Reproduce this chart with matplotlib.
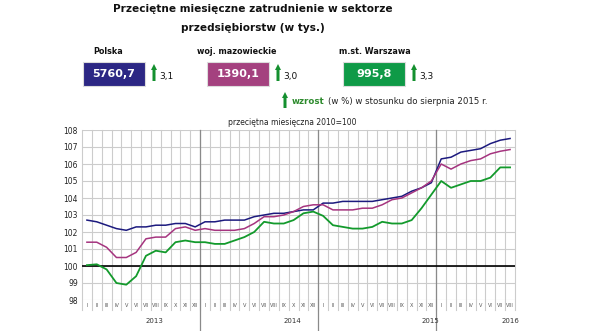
import numpy as np
import matplotlib.pyplot as plt
from matplotlib.patches import Rectangle, FancyArrow

# dane (przecietna miesieczna 2010=100)
miesiace = ['I', 'II', 'III', 'IV', 'V', 'VI', 'VII', 'VIII', 'IX', 'X', 'XI', 'XII'] * 3 + \
           ['I', 'II', 'III', 'IV', 'V', 'VI', 'VII', 'VIII']
lata = ['2013', '2014', '2015', '2016']
lata_poz = [6.9, 20.9, 34.9, 43.0]

polska = [102.7, 102.6, 102.4, 102.2, 102.1, 102.3, 102.3, 102.4, 102.4, 102.5, 102.5, 102.3,
          102.6, 102.6, 102.7, 102.7, 102.7, 102.9, 103.0, 103.1, 103.1, 103.2, 103.3, 103.3,
          103.7, 103.7, 103.8, 103.8, 103.8, 103.8, 103.9, 104.0, 104.1, 104.4, 104.6, 104.9,
          106.3, 106.4, 106.7, 106.8, 106.9, 107.2, 107.4, 107.5]
mazowieckie = [101.4, 101.4, 101.1, 100.5, 100.5, 100.8, 101.6, 101.7, 101.7, 102.2, 102.3, 102.1,
               102.2, 102.1, 102.1, 102.1, 102.2, 102.5, 102.9, 102.9, 103.0, 103.2, 103.5, 103.6,
               103.6, 103.3, 103.3, 103.3, 103.4, 103.4, 103.6, 103.9, 104.0, 104.3, 104.6, 105.0,
               106.0, 105.7, 106.0, 106.2, 106.3, 106.6, 106.75, 106.85]
warszawa = [100.05, 100.1, 99.8, 99.0, 98.9, 99.4, 100.6, 100.9, 100.8, 101.4, 101.5, 101.4,
            101.4, 101.3, 101.3, 101.5, 101.7, 102.0, 102.6, 102.5, 102.5, 102.7, 103.1, 103.2,
            102.95, 102.4, 102.3, 102.2, 102.2, 102.3, 102.6, 102.5, 102.5, 102.7, 103.4, 104.2,
            105.0, 104.6, 104.8, 105.0, 105.0, 105.2, 105.8, 105.8]

nazwy = ['Polska', 'woj. mazowieckie', 'm.st. Warszawa']
wartosci = ['5760,7', '1390,1', '995,8']
wzrost = ['3,1', '3,0', '3,3']

kolory_linii = ['#1c1a7e', '#a5347f', '#139a2c']
kolory_pudel = ['#2c2784', '#a4417f', '#0f9a47']

W, H = 590, 331
fig = plt.figure(figsize=(W / 100, H / 100), dpi=100)
ax = fig.add_axes([82 / W, 31 / H, 433 / W, 170 / H])

x = np.arange(len(miesiace))
n = len(miesiace)

# siatka
for b in np.arange(-0.5, n, 1.0):
    ax.plot([b, b], [-0.06, 1], transform=ax.get_xaxis_transform(), color='#cccccc',
            lw=0.8, clip_on=False, zorder=1)
for b in [11.5, 23.5, 35.5]:
    ax.plot([b, b], [-0.19, 1], transform=ax.get_xaxis_transform(), color='#8a8a8a',
            lw=0.9, clip_on=False, zorder=2)
for yv in range(98, 109):
    ax.axhline(yv, color='#cccccc', lw=0.8, zorder=1)
ax.axhline(100, color='black', lw=1.2, zorder=3)

ax.plot(x, polska, color=kolory_linii[0], lw=1.1, zorder=4)
ax.plot(x, mazowieckie, color=kolory_linii[1], lw=1.1, zorder=4)
ax.plot(x, warszawa, color=kolory_linii[2], lw=1.3, zorder=5)

ax.set_xlim(-0.5, n - 0.5)
ax.set_ylim(98, 108)
ax.set_yticks(range(98, 109))
ax.tick_params(axis='y', length=0, labelsize=5.5, pad=3, labelcolor='#222222')
ax.set_xticks([])
for s in ax.spines.values():
    s.set_visible(False)

for i, m in enumerate(miesiace):
    ax.text(i, -0.03, m, transform=ax.get_xaxis_transform(), ha='center', va='center',
            fontsize=3.6, color='#555555')
for rok, p in zip(lata, lata_poz):
    ax.text(p, -0.125, rok, transform=ax.get_xaxis_transform(), ha='center', va='center',
            fontsize=5, color='#333333')

ax.text(0.485, 1.045, 'przeciętna miesięczna 2010=100', transform=ax.transAxes,
        ha='center', va='center', fontsize=5.5, color='#222222')

# naglowek
fig.text(253 / W, 1 - 9 / H, 'Przeciętne miesięczne zatrudnienie w sektorze',
         ha='center', va='center', fontsize=7.6, fontweight='bold', color='#111111')
fig.text(253 / W, 1 - 28 / H, 'przedsiębiorstw (w tys.)',
         ha='center', va='center', fontsize=7.6, fontweight='bold', color='#111111')

box_x = [83, 207, 343]
lab_x = [108, 237, 375]
for i in range(3):
    bx = box_x[i]
    fig.text(lab_x[i] / W, 1 - 52 / H, nazwy[i], ha='center', va='center',
             fontsize=5.8, fontweight='bold', color='#111111')
    fig.add_artist(Rectangle((bx / W, 1 - 86 / H), 62 / W, 24 / H, transform=fig.transFigure,
                             facecolor=kolory_pudel[i], edgecolor='#dcdcdc', lw=0.8))
    fig.text((bx + 31) / W, 1 - 74 / H, wartosci[i], ha='center', va='center',
             fontsize=8, fontweight='bold', color='white')
    fig.add_artist(FancyArrow((bx + 71) / W, 1 - 81 / H, 0, 17 / H, width=3 / W,
                              head_width=6 / W, head_length=6 / H, length_includes_head=True,
                              transform=fig.transFigure, color='#14902f', lw=0))
    fig.text((bx + 76) / W, 1 - 76 / H, wzrost[i], ha='left', va='center',
             fontsize=6.5, color='#111111')

fig.add_artist(FancyArrow(285 / W, 1 - 108 / H, 0, 16 / H, width=3 / W,
                          head_width=6 / W, head_length=6 / H, length_includes_head=True,
                          transform=fig.transFigure, color='#14902f', lw=0))
t = fig.text(292 / W, 1 - 101 / H, 'wzrost', ha='left', va='center',
             fontsize=6.2, fontweight='bold', color='#2e8b2e')
r = fig.canvas.get_renderer()
bb = t.get_window_extent(renderer=r)
fig.text((bb.x1 + 3) / W, 1 - 101 / H, '(w %) w stosunku do sierpnia 2015 r.', ha='left',
         va='center', fontsize=6.2, color='#222222')

fig.savefig('out.png', dpi=100)
